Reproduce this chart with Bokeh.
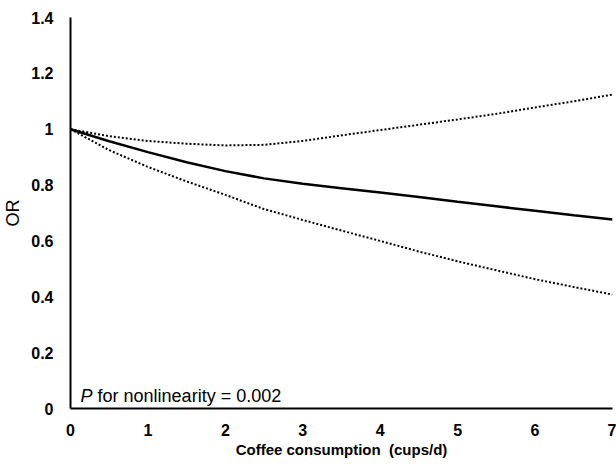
from bokeh.plotting import figure
from bokeh.models import Label, FixedTicker, CustomJSTickFormatter
from bokeh.embed import file_html
from bokeh.resources import INLINE

# Coffee consumption (cups/d)
cups = [0, 0.5, 1, 1.5, 2, 2.5, 3, 3.5, 4, 4.5, 5, 5.5, 6, 6.5, 7]
# Odds ratio estimate and 95% CI
or_est = [1.0, 0.957, 0.918, 0.882, 0.85, 0.824, 0.805, 0.789, 0.773, 0.757, 0.74, 0.724, 0.708, 0.692, 0.677]
or_upper = [1.0, 0.975, 0.958, 0.948, 0.942, 0.944, 0.958, 0.978, 0.997, 1.016, 1.035, 1.055, 1.078, 1.1, 1.124]
or_lower = [1.0, 0.925, 0.865, 0.813, 0.765, 0.714, 0.675, 0.637, 0.6, 0.562, 0.527, 0.495, 0.463, 0.435, 0.408]

y_ticks = [0, 0.2, 0.4, 0.6, 0.8, 1.0, 1.2, 1.4]
x_ticks = [0, 1, 2, 3, 4, 5, 6, 7]

FONT = "Liberation Sans"

p = figure(width=616, height=464, x_range=(0, 7), y_range=(0, 1.4),
           output_backend="svg", toolbar_location=None,
           min_border_left=70, min_border_right=4, min_border_top=17, min_border_bottom=56)
p.outline_line_color = None
p.xgrid.grid_line_color = None
p.ygrid.grid_line_color = None
p.background_fill_color = "white"
p.border_fill_color = "white"

p.line(cups, or_upper, line_color="black", line_width=2, line_dash="2 2")
p.line(cups, or_lower, line_color="black", line_width=2, line_dash="2 2")
p.line(cups, or_est, line_color="black", line_width=2.5)

for ax in (p.xaxis[0], p.yaxis[0]):
    ax.axis_line_color = "black"
    ax.axis_line_width = 2
    ax.major_tick_line_color = None
    ax.minor_tick_line_color = None
    ax.major_label_text_font = FONT
    ax.major_label_text_font_style = "bold"
    ax.major_label_text_font_size = "16px"
    ax.major_label_text_color = "black"

p.yaxis.ticker = FixedTicker(ticks=y_ticks)
p.yaxis.formatter = CustomJSTickFormatter(code="return tick.toFixed(1).replace(/\\.0$/, '');")
p.yaxis.major_label_standoff = 11
p.yaxis.axis_label = "OR"
p.yaxis.axis_label_text_font = FONT
p.yaxis.axis_label_text_font_style = "normal"
p.yaxis.axis_label_text_font_size = "18px"
p.yaxis.axis_label_text_color = "black"
p.yaxis.axis_label_standoff = 5

p.xaxis.ticker = FixedTicker(ticks=x_ticks)
p.xaxis.major_label_standoff = 9
p.xaxis.axis_label = "Coffee consumption \u00a0(cups/d)"
p.xaxis.axis_label_text_font = "Liberation Sans Narrow, Liberation Sans"
p.xaxis.axis_label_text_font_style = "bold"
p.xaxis.axis_label_text_font_size = "15px"
p.xaxis.axis_label_text_color = "black"
p.xaxis.axis_label_standoff = 2

p.add_layout(Label(x=0.13, y=0.043, text="P", text_font=FONT, text_font_style="italic",
                   text_font_size="18px", text_color="black", text_baseline="alphabetic"))
p.add_layout(Label(x=0.13, y=0.043, x_offset=17, text="for nonlinearity = 0.002", text_font=FONT,
                   text_font_size="18px", text_color="black", text_baseline="alphabetic"))

open("out.html", "w").write(file_html(p, INLINE))
